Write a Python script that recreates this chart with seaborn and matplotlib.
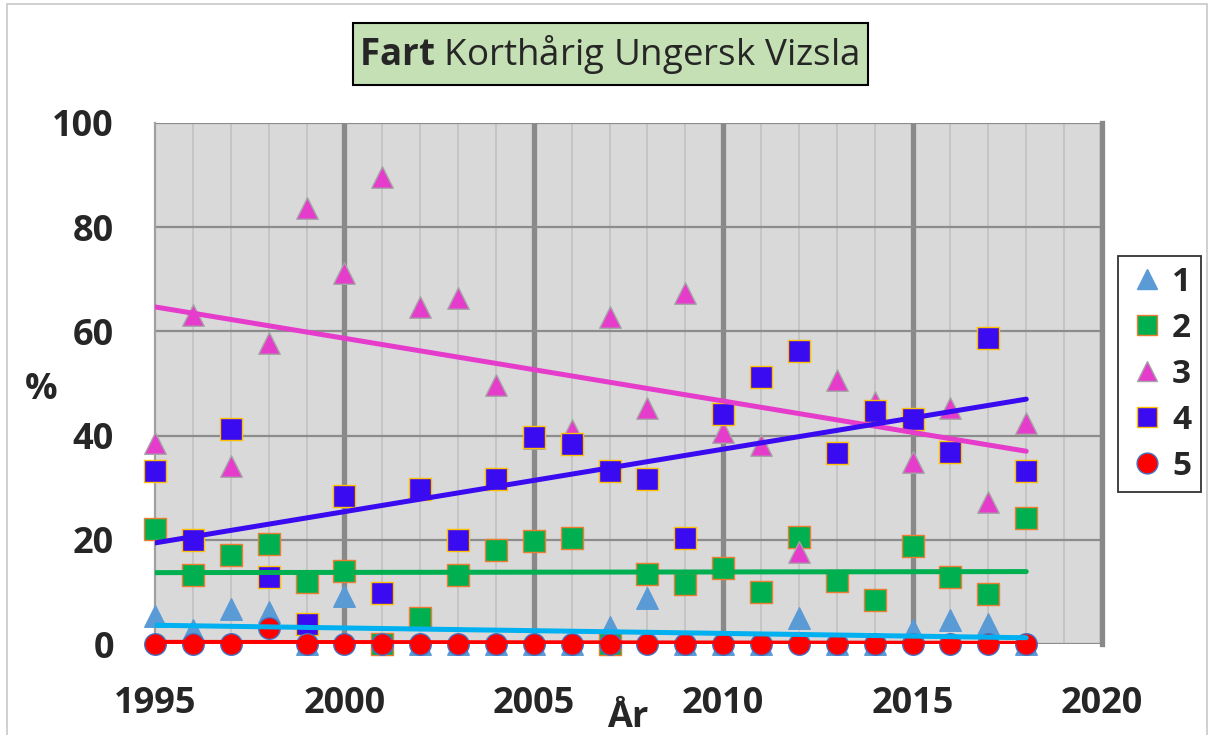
import numpy as np
import pandas as pd
import matplotlib
matplotlib.use("Agg")
import matplotlib.pyplot as plt
import seaborn as sns
from matplotlib.lines import Line2D
from matplotlib.patches import Rectangle

# ---------------- data ----------------
years = list(range(1995, 2019))
s1 = [5.4, 2.7, 6.7, 6.1, 0, 9.2, 0, 0, 0, 0, 0, 0, 3.3, 8.8, 0, 0, 0, 5.0, 0, 0, 2.7, 4.6, 3.8, 0]
s2 = [22.0, 13.2, 17.1, 19.2, 11.9, 14.0, 0, 5.0, 13.2, 18.0, 19.8, 20.3, 0, 13.4, 11.6, 14.5,
      10.0, 20.5, 12.1, 8.4, 18.8, 12.8, 9.6, 24.2]
s3 = [38.6, 63.1, 34.2, 57.8, 83.7, 71.2, 89.6, 64.7, 66.4, 49.7, 39.5, 41.0, 62.8, 45.3, 67.4,
      40.7, 38.2, 17.7, 50.7, 46.4, 35.0, 45.3, 27.2, 42.4]
s4 = [33.2, 20.0, 41.3, 12.8, 3.8, 28.4, 9.8, 29.7, 20.0, 31.7, 39.8, 38.3, 33.2, 31.7, 20.4,
      44.1, 51.2, 56.2, 36.7, 44.8, 43.2, 36.9, 58.7, 33.2]
s5 = [0, 0, 0, 3.0, 0, 0, 0, 0, 0, 0, 0, 0, 0, 0, 0, 0, 0, 0, 0, 0, 0, 0, 0, 0]

# trend lines (start/end values)
trend_years = [1995, 2018]
t1 = [3.6, 1.2]
t2 = [13.7, 13.9]
t3 = [64.7, 37.0]
t4 = [19.4, 47.0]
t5 = [0.4, 0.2]

labels = ["1", "2", "3", "4", "5"]
x_ticks = [1995, 2000, 2005, 2010, 2015, 2020]
y_ticks = [0, 20, 40, 60, 80, 100]

# ---------------- style ----------------
sns.set_style("white")
plt.rcParams["font.family"] = ["Open Sans", "DejaVu Sans"]
plt.rcParams["mathtext.fontset"] = "custom"
plt.rcParams["mathtext.rm"] = "Open Sans"
plt.rcParams["mathtext.bf"] = "Open Sans:bold"

W, H = 1213, 735
fig = plt.figure(figsize=(W / 100, H / 100), dpi=100)
fig.patch.set_facecolor("white")


def fx(px):
    return px / W


def fy(py):
    return 1 - py / H


ax = fig.add_axes([fx(155), fy(644), fx(1102) - fx(155), fy(123) - fy(644)])
ax.set_facecolor("#d9d9d9")

series = [
    (s1, "^", "#5b9bd5", "#5b9bd5", t1, "#00b0f0", 3.6),
    (s2, "s", "#00b050", "#ed7d31", t2, "#00b050", 3.6),
    (s3, "^", "#e63ccc", "#a5a5a5", t3, "#e63ccc", 3.6),
    (s4, "s", "#3a0af0", "#ffc000", t4, "#3a0af0", 3.6),
    (s5, "o", "#ff0000", "#4472c4", t5, "#ff0000", 3.0),
]
ms = {"^": 15.5, "s": 15.5, "o": 15.5}

for vals, mk, fc, ec, _, _, _ in series:
    df = pd.DataFrame({"year": years, "val": vals})
    sns.scatterplot(data=df, x="year", y="val", marker=mk, s=ms[mk] ** 2, color=fc,
                    edgecolor=ec, linewidth=1.0, ax=ax, zorder=3, legend=False)
    ax.collections[-1].set_clip_on(False)

for _, _, _, _, tv, tc, lw in series:
    sns.lineplot(x=trend_years, y=tv, color=tc, lw=lw, ax=ax, zorder=4,
                 solid_capstyle="round", legend=False)

ax.set_xlim(1995, 2020)
ax.set_ylim(0, 100)
ax.set_xticks(x_ticks)
ax.set_xticks(years + [2019], minor=True)
ax.set_yticks(y_ticks)
ax.set_xticklabels([str(t) for t in x_ticks])
ax.set_yticklabels([str(t) for t in y_ticks])

ax.grid(which="minor", axis="x", color="#bfbfbf", lw=1.1, zorder=0)
ax.grid(which="major", axis="x", color="#898989", lw=3.8, zorder=0)
ax.grid(which="major", axis="y", color="#8c8c8c", lw=1.6, zorder=0)
ax.set_axisbelow(True)
ax.get_xgridlines()[0].set_visible(False)

for side in ["top", "bottom"]:
    ax.spines[side].set_visible(False)
ax.spines["left"].set_color("#a0a0a0")
ax.spines["left"].set_linewidth(1.6)
ax.spines["right"].set_color("#898989")
ax.spines["right"].set_linewidth(3.8)

ax.tick_params(axis="y", which="major", length=9.5, width=1.4, color="#8c8c8c", pad=20,
               labelsize=26)
ax.tick_params(axis="x", which="major", length=6, width=1.4, color="#8c8c8c", pad=24,
               labelsize=26)
ax.tick_params(axis="x", which="minor", length=0)
for lab in ax.get_xticklabels() + ax.get_yticklabels():
    lab.set_fontweight("bold")
ax.set_xlabel("")
ax.set_ylabel("")

# axis titles
fig.text(fx(41), fy(390), "%", ha="center", va="center", fontsize=26, fontweight="bold")
fig.text(fx(628), fy(727), "År", ha="center", va="baseline", fontsize=26, fontweight="bold")

# title box
fig.patches.append(Rectangle((fx(353), fy(85)), fx(868) - fx(353), fy(23) - fy(85),
                             transform=fig.transFigure, facecolor="#c5e0b4",
                             edgecolor="black", lw=1.5, zorder=1))
fig.text(fx(609), fy(55), r"$\bf{Fart}$ Korthårig Ungersk Vizsla", ha="center",
         va="center", fontsize=26.5, zorder=2)

# outer border
fig.patches.append(Rectangle((fx(7), fy(740)), fx(1207) - fx(7), fy(4) - fy(740),
                             transform=fig.transFigure, facecolor="none",
                             edgecolor="#c8c8c8", lw=1.2, zorder=0))

# legend
handles = []
for vals, mk, fc, ec, _, _, _ in series:
    handles.append(Line2D([], [], ls="", marker=mk, ms=ms[mk] - 0.5, markerfacecolor=fc,
                          markeredgecolor=ec, markeredgewidth=1.0))
leg = fig.legend(handles, labels, loc="upper left", bbox_to_anchor=(fx(1118), fy(256)),
                 frameon=True, fancybox=False, edgecolor="black",
                 prop={"family": "Open Sans", "weight": "bold", "size": 24},
                 borderpad=0.29, handlelength=1.16, handletextpad=0.17, labelspacing=0.39,
                 borderaxespad=0)
leg.get_frame().set_linewidth(1.3)

fig.savefig("out.png", dpi=100)
